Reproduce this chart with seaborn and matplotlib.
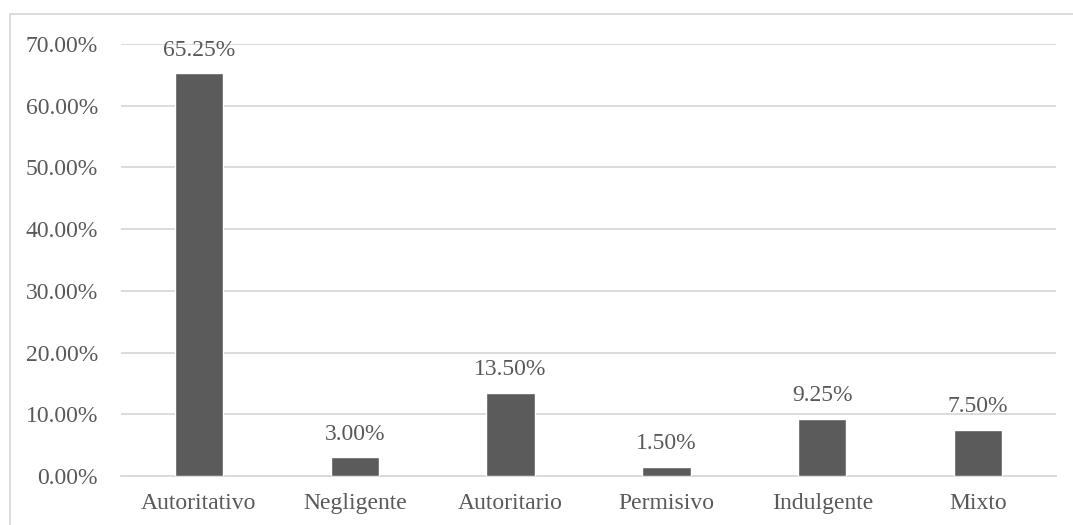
import matplotlib
matplotlib.use("Agg")
import matplotlib.pyplot as plt
from matplotlib.patches import Rectangle
import seaborn as sns
import pandas as pd

categories = ["Autoritativo", "Negligente", "Autoritario", "Permisivo", "Indulgente", "Mixto"]
percentages = [65.25, 3.00, 13.50, 1.50, 9.25, 7.50]
y_ticks = [0, 10, 20, 30, 40, 50, 60, 70]

sns.set_theme(style="white")
plt.rcParams["font.family"] = ["Liberation Serif", "DejaVu Serif"]

text_color = "#595959"
bar_color = "#5b5b5b"
grid_color = "#d9d9d9"
font_size = 17

df = pd.DataFrame({"estilo": categories, "pct": percentages})

fig = plt.figure(figsize=(10.73, 5.25), dpi=100)
ax = fig.add_axes([121 / 1073, 1 - 476 / 525, (1056 - 121) / 1073, (476 - 44) / 525])

sns.barplot(data=df, x="estilo", y="pct", color=bar_color, width=0.31,
            saturation=1, ax=ax, zorder=3)

ax.set_ylim(0, 70)
ax.set_yticks(y_ticks)
ax.set_yticklabels([f"{v:.2f}%" for v in y_ticks])
ax.yaxis.grid(True, color=grid_color, linewidth=1.3, zorder=0)
ax.set_axisbelow(True)
for side in ["top", "right", "left"]:
    ax.spines[side].set_visible(False)
ax.spines["bottom"].set_color(grid_color)
ax.spines["bottom"].set_linewidth(1.3)
ax.set_xlabel("")
ax.set_ylabel("")
ax.tick_params(axis="both", length=0, labelsize=font_size, colors=text_color)
ax.tick_params(axis="y", pad=16.5)
ax.tick_params(axis="x", pad=12)

for i, v in enumerate(percentages):
    ax.annotate(f"{v:.2f}%", (i, v), xytext=(0, 16.5), textcoords="offset points",
                ha="center", va="center", fontsize=font_size, color=text_color)

# outer chart border
fig.patches.append(Rectangle((10 / 1073, -0.1), 1.2, 1 - 14 / 525 + 0.1,
                             transform=fig.transFigure, fill=False,
                             edgecolor=grid_color, linewidth=1.3))

fig.savefig("out.png", dpi=100)
